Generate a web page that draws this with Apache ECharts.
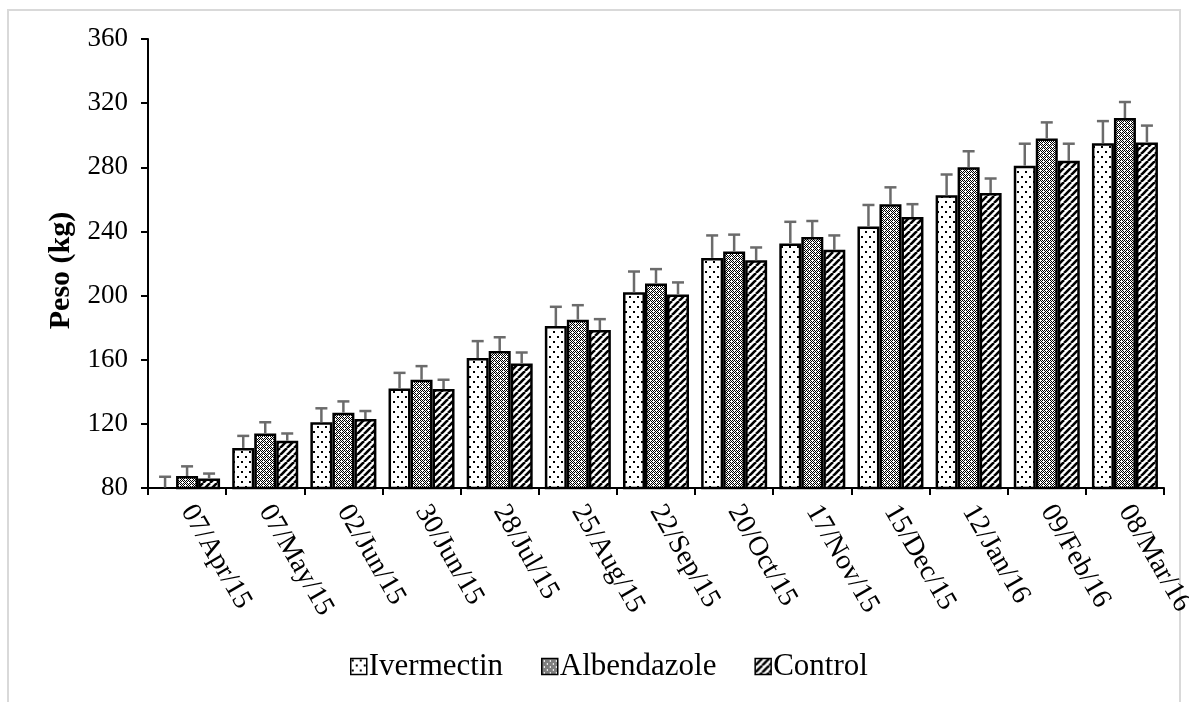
<!DOCTYPE html>
<html>
<head>
<meta charset="utf-8">
<script src="https://cdn.jsdelivr.net/npm/echarts@6/dist/echarts.min.js"></script>
<style>
  html, body { margin: 0; padding: 0; background: #fff; }
  #chart { width: 1189px; height: 702px; }
</style>
</head>
<body>
<div id="chart"></div>
<script>
// fechas de pesaje
const fechas = ['07/Apr/15', '07/May/15', '02/Jun/15', '30/Jun/15', '28/Jul/15', '25/Aug/15',
  '22/Sep/15', '20/Oct/15', '17/Nov/15', '15/Dec/15', '12/Jan/16', '09/Feb/16', '08/Mar/16']

// peso medio (kg) y desvio por tratamiento
const ivermectin = [80.3, 105, 121, 142, 161, 181, 202, 223.5, 232.5, 243, 262.5, 281, 295]
const ivermectinSD = [6.7, 7.5, 8.7, 9.8, 10.6, 12, 13, 14, 13.5, 13.5, 13, 13.7, 13.8]
const albendazole = [87.5, 114, 127, 147.5, 165.5, 185, 207.5, 227.5, 236.5, 257, 280, 298, 310.7]
const albendazoleSD = [6, 7, 7, 8.5, 8.5, 9, 9, 10.5, 10, 10.5, 10, 10, 10]
const control = [86, 109.5, 123, 141.7, 157.7, 178.5, 200.7, 222, 228.5, 249, 264, 284, 295.5]
const controlSD = [3, 4.5, 5, 5.8, 6.8, 6.8, 7.5, 8, 9, 8, 9, 10.7, 10.5]

const yTicks = [80, 120, 160, 200, 240, 280, 320, 360]

const FONT = '"Liberation Serif", "Times New Roman", serif'
const BAR_W = 22

// patrones de relleno tipo excel
function patron(w, h, dibujar) {
  const c = document.createElement('canvas')
  c.width = w
  c.height = h
  const ctx = c.getContext('2d')
  ctx.fillStyle = '#fff'
  ctx.fillRect(0, 0, w, h)
  ctx.fillStyle = '#000'
  ctx.strokeStyle = '#000'
  dibujar(ctx)
  return { image: c, repeat: 'repeat' }
}

const puntos = patron(8, 10, ctx => {
  ctx.fillRect(1, 1, 2, 2)
  ctx.fillRect(5, 6, 2, 2)
})

const cuadriculado = patron(6, 6, ctx => {
  for (let y = 0; y < 6; y++) {
    for (let x = 0; x < 6; x++) {
      if ((x + y) % 2 === 0) ctx.fillRect(x, y, 1, 1)
    }
  }
  ctx.fillStyle = '#fff'
  ctx.fillRect(2, 2, 1, 1)
  ctx.fillRect(5, 5, 1, 1)
})

const rayado = patron(7, 7, ctx => {
  ctx.lineWidth = 2.6
  for (let x0 = -7; x0 <= 14; x0 += 7) {
    ctx.beginPath()
    ctx.moveTo(x0, 7)
    ctx.lineTo(x0 + 7, 0)
    ctx.stroke()
  }
})

function errorSeries(medias, sds, offset) {
  return {
    type: 'custom',
    silent: true,
    z: 5,
    data: medias.map((m, i) => [i, m, sds[i]]),
    renderItem: (params, api) => {
      const i = api.value(0)
      const m = api.value(1)
      const sd = api.value(2)
      const base = api.coord([i, m])
      const top = api.coord([i, m + sd])
      const x = base[0] + offset
      const estilo = { stroke: '#6b6b6b', lineWidth: 2.5 }
      return {
        type: 'group',
        children: [
          { type: 'line', shape: { x1: x, y1: base[1], x2: x, y2: top[1] }, style: estilo },
          { type: 'line', shape: { x1: x - 6, y1: top[1], x2: x + 6, y2: top[1] }, style: estilo }
        ]
      }
    }
  }
}

function barra(nombre, datos, relleno) {
  return {
    name: nombre,
    type: 'bar',
    barWidth: BAR_W,
    barGap: '0%',
    z: 3,
    data: datos,
    itemStyle: { color: relleno, borderColor: '#000', borderWidth: 2.5 }
  }
}

const chart = echarts.init(document.getElementById('chart'))

const option = {
  animation: false,
  backgroundColor: '#fff',
  textStyle: { fontFamily: FONT, color: '#000' },
  graphic: [{
    type: 'rect',
    shape: { x: 8, y: 10, width: 1172, height: 700 },
    style: { fill: 'none', stroke: '#d9d9d9', lineWidth: 2 },
    silent: true
  }],
  grid: { left: 148, right: 25, top: 39, bottom: 214, outerBoundsMode: 'none' },
  legend: {
    left: 345,
    top: 646,
    itemWidth: 16,
    itemHeight: 16,
    itemGap: 38,
    icon: 'rect',
    data: ['Ivermectin', 'Albendazole', 'Control'],
    itemStyle: { borderWidth: 1.5, borderColor: '#000' },
    textStyle: { fontFamily: FONT, fontSize: 31, color: '#000', padding: [0, 0, 0, -3] }
  },
  xAxis: {
    type: 'category',
    data: fechas,
    axisLine: { lineStyle: { color: '#000', width: 2 } },
    axisTick: { show: true, length: 7, lineStyle: { color: '#000', width: 2 } },
    axisLabel: { interval: 0, rotate: -60, margin: 19, fontFamily: FONT, fontSize: 28, color: '#000' },
    splitLine: { show: false }
  },
  yAxis: {
    type: 'value',
    min: yTicks[0],
    max: yTicks[yTicks.length - 1],
    interval: 40,
    name: 'Peso (kg)',
    nameLocation: 'middle',
    nameGap: 72,
    nameTextStyle: { fontFamily: FONT, fontSize: 30, fontWeight: 'bold', color: '#000', padding: [0, 14, 0, 0] },
    axisLine: { show: true, lineStyle: { color: '#000', width: 2 } },
    axisTick: { show: true, length: 7, lineStyle: { color: '#000', width: 2 } },
    axisLabel: { margin: 20, fontFamily: FONT, fontSize: 27, color: '#000' },
    splitLine: { show: false }
  },
  series: [
    barra('Ivermectin', ivermectin, puntos),
    barra('Albendazole', albendazole, cuadriculado),
    barra('Control', control, rayado),
    errorSeries(ivermectin, ivermectinSD, -BAR_W),
    errorSeries(albendazole, albendazoleSD, 0),
    errorSeries(control, controlSD, BAR_W)
  ]
}

chart.setOption(option)
</script>
</body>
</html>
